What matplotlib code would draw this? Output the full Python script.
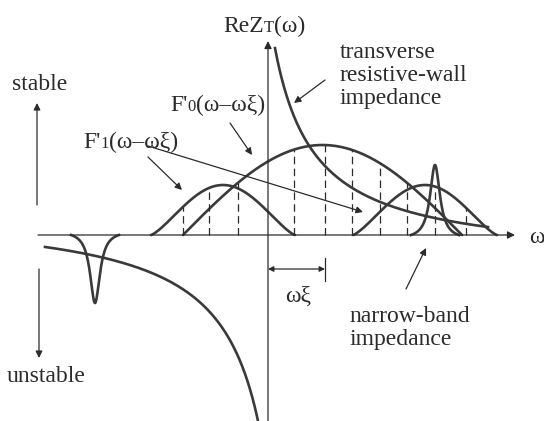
import numpy as np
import matplotlib.pyplot as plt

plt.rcParams['font.family'] = ['Liberation Serif', 'DejaVu Serif']

# frequencies are measured from the ReZ axis, impedance upwards from the omega axis
sample_w = [-85, -59, -30, 26, 57, 84, 112, 139, 167, 198]   # dashed sampling lines
f0_ends = [-85, 194]          # F'0 spectrum support
f0_peak = 90
f1_centres = [-45, 157]       # the two lobes of F'1
f1_halfwidth = 72
f1_peak = 50
nb_centres = [-173, 167]      # narrow-band resonance
nb_peaks = [-68, 70]
nb_width = 6
nb_reach = 24
rw_scale = [8551, 9511]       # resistive wall, positive / negative side
rw_shift = [33.2, 35.1]
rw_floor = [25.8, 24.9]
rw_pos_range = [7, 220]
rw_neg_range = [-223, -9]
omega_xi = 57

ink = '#3a3a3a'
thin = '#2b2b2b'
fs = 17
fs_small = 12


def f0(w):
    a, b = f0_ends
    out = np.zeros_like(w, dtype=float)
    m = (w >= a) & (w <= b)
    out[m] = f0_peak * np.sin(np.pi * (w[m] - a) / (b - a))
    return out


def f1(w):
    out = np.zeros_like(w, dtype=float)
    for c in f1_centres:
        d = (w - c) / (2 * f1_halfwidth)
        m = np.abs(d) <= 0.5
        out[m] += f1_peak * np.cos(np.pi * d[m]) ** 1.3
    return out


def lorentz(d):
    return nb_width**2 / (d**2 + nb_width**2)


def label(x, y, parts):
    # run of text pieces sharing one baseline, small pieces act as indices
    text, size = parts[0]
    t = ax.text(x, y, text, fontsize=size, va='baseline', color=thin)
    for text, new_size in parts[1:]:
        t = ax.annotate(text, xy=(1, 0), xycoords=t, xytext=(0, 0.217 * size),
                        textcoords='offset points', fontsize=new_size,
                        va='baseline', color=thin)
        size = new_size


fig = plt.figure(figsize=(5.44, 4.21), dpi=100)
ax = fig.add_axes([0, 0, 1, 1])
ax.set_xlim(-268, 276)
ax.set_ylim(-186, 235)
ax.axis('off')

# axes
ax.annotate('', xy=(247, 0), xytext=(-230, 0),
            arrowprops=dict(arrowstyle='-|>', lw=0.9, color=thin,
                            shrinkA=0, shrinkB=0, mutation_scale=11))
ax.annotate('', xy=(0, 194), xytext=(0, -190),
            arrowprops=dict(arrowstyle='-|>', lw=0.9, color=thin,
                            shrinkA=0, shrinkB=0, mutation_scale=11))

# beam spectra
w = np.linspace(f0_ends[0], f0_ends[1], 600)
ax.plot(w, f0(w), color=ink, lw=1.9, solid_capstyle='round')
for c in f1_centres:
    w = np.linspace(c - f1_halfwidth, c + f1_halfwidth, 400)
    ax.plot(w, f1(w), color=ink, lw=1.9, solid_capstyle='round')

# sampling lines up to the top spectrum
sw = np.array(sample_w, dtype=float)
tops = np.maximum(f0(sw), f1(sw))
ax.vlines(sw, 0, tops, colors=thin, lw=0.9, linestyles=(0, (6, 3.5)))

# narrow-band impedance
for c, h in zip(nb_centres, nb_peaks):
    d = np.linspace(-nb_reach, nb_reach, 400)
    base = lorentz(nb_reach)
    ax.plot(c + d, h * (lorentz(d) - base) / (1 - base), color=ink, lw=1.9)

# transverse resistive-wall impedance
w = np.linspace(rw_pos_range[0], rw_pos_range[1], 500)
ax.plot(w, rw_scale[0] / (w + rw_shift[0]) - rw_floor[0], color=ink, lw=1.9)
w = np.linspace(rw_neg_range[0], rw_neg_range[1], 500)
ax.plot(w, -(rw_scale[1] / (-w + rw_shift[1]) - rw_floor[1]), color=ink, lw=1.9)

# labels
label(-45, 203, [('ReZ', fs), ('T', fs_small), ('(ω)', fs)])
label(-98, 124, [("F'", fs), ('0', fs_small), ('(ω–ωξ)', fs)])
label(-185, 87, [("F'", fs), ('1', fs_small), ('(ω–ωξ)', fs)])
ax.text(261, -8, 'ω', fontsize=fs, ha='left', va='baseline', color=thin)
ax.text(-256, 145, 'stable', fontsize=fs, va='baseline', color=thin)
ax.text(-261, -147, 'unstable', fontsize=fs, va='baseline', color=thin)
for i, line in enumerate(['transverse', 'resistive-wall', 'impedance']):
    ax.text(72, 177 - 23 * i, line, fontsize=fs, va='baseline', color=thin)
for i, line in enumerate(['narrow-band', 'impedance']):
    ax.text(81, -87 - 23 * i, line, fontsize=fs, va='baseline', color=thin)
ax.text(17, -67, 'ωξ', fontsize=fs, va='baseline', color=thin)

# pointer arrows
arrow = dict(arrowstyle='-|>', lw=0.9, color=thin, shrinkA=0, shrinkB=0,
             mutation_scale=10)
pointers = [((-231, 30), (-231, 132)),
            ((-229, -34), (-229, -123)),
            ((-38, 112), (-16, 80)),
            ((-120, 78), (-86, 45)),
            ((-120, 89), (95, 23)),
            ((57, 155), (26, 132)),
            ((138, -54), (158, -13))]
for start, end in pointers:
    ax.annotate('', xy=end, xytext=start, arrowprops=arrow)

# omega*xi shift marker
ax.annotate('', xy=(omega_xi, -34), xytext=(0, -34),
            arrowprops=dict(arrowstyle='<|-|>', lw=0.9, color=thin, shrinkA=0,
                            shrinkB=0, mutation_scale=8))
ax.plot([omega_xi, omega_xi], [-23, -46], color=thin, lw=0.9)

fig.savefig('out.png', dpi=100, facecolor='white')
